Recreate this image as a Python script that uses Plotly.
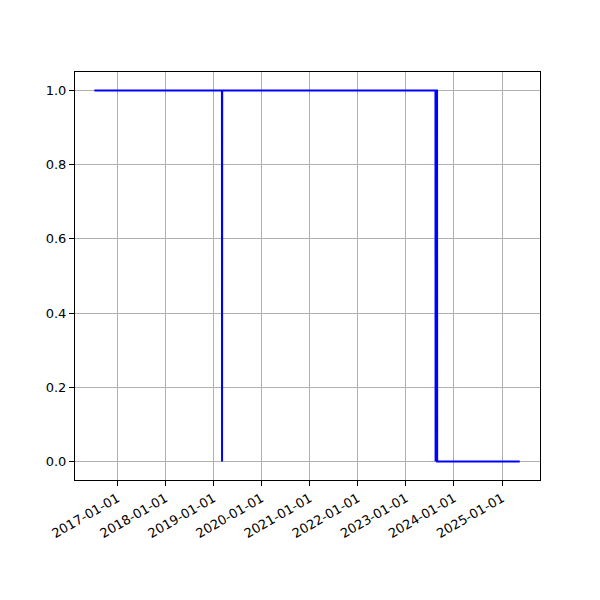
import plotly.graph_objects as go

dates = ["2016-07-10", "2019-03-06", "2019-03-07", "2019-03-08",
         "2023-08-14", "2023-08-15", "2023-08-16", "2023-08-26",
         "2023-08-27", "2025-05-15"]
values = [1, 1, 0, 1, 1, 0, 1, 1, 0, 0]

tick_dates = ["2017-01-01", "2018-01-01", "2019-01-01", "2020-01-01", "2021-01-01",
              "2022-01-01", "2023-01-01", "2024-01-01", "2025-01-01"]
y_ticks = [0.0, 0.2, 0.4, 0.6, 0.8, 1.0]

fig = go.Figure()
fig.add_trace(go.Scatter(x=dates, y=values, mode="lines",
                         line=dict(color="#0000ff", width=2), showlegend=False))

font = dict(family="DejaVu Sans", size=13, color="black")
fig.update_layout(
    width=600, height=600,
    margin=dict(l=67, r=68, t=64, b=128),
    paper_bgcolor="white", plot_bgcolor="white",
    font=font,
)
fig.update_xaxes(
    type="date",
    range=["2016-02-14", "2025-10-16"],
    tickvals=tick_dates, ticktext=tick_dates, tickangle=-30,
    showgrid=True, gridcolor="#b0b0b0", gridwidth=1,
    showline=True, linecolor="black", linewidth=1, mirror=True,
    ticks="outside", ticklen=5, tickcolor="black", zeroline=False,
    automargin=False,
)
fig.update_yaxes(
    range=[-0.05, 1.05],
    tickvals=y_ticks, tickformat=".1f",
    showgrid=True, gridcolor="#b0b0b0", gridwidth=1,
    showline=True, linecolor="black", linewidth=1, mirror=True,
    ticks="outside", ticklen=5, tickcolor="black", zeroline=False,
    automargin=False,
)
fig.write_html("out.html")
